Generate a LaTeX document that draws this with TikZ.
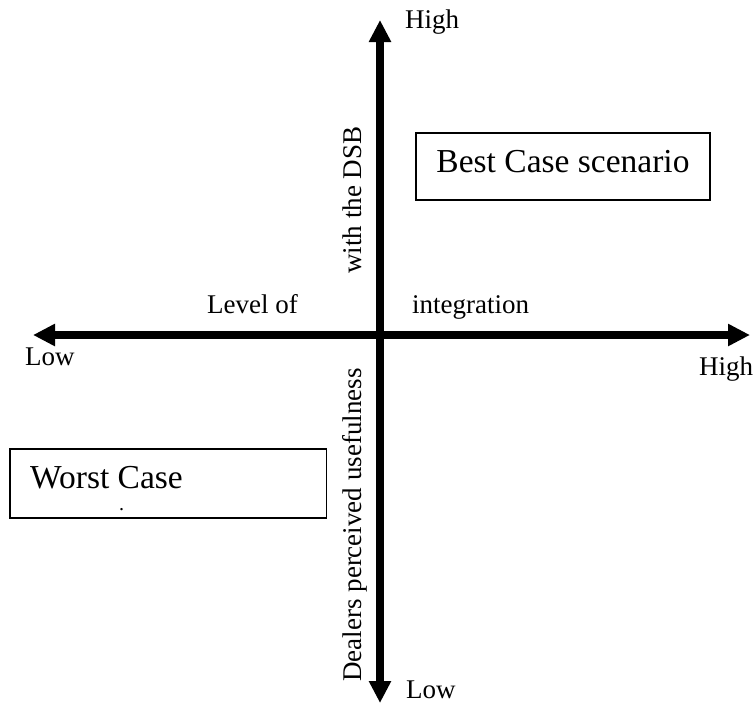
\documentclass[tikz,border=0pt]{standalone}
\usepackage{fontspec}
\setmainfont{Liberation Serif}
\usetikzlibrary{arrows.meta}
\begin{document}
\begin{tikzpicture}[x=1pt,y=-1pt,
  axis/.style={line width=7.5pt,{Triangle[length=22pt,width=21pt]}-{Triangle[length=22pt,width=21pt]}},
  lbl/.style={inner sep=0pt,font=\fontsize{27}{32}\selectfont},
  boxtxt/.style={inner sep=0pt,font=\fontsize{33.5}{40}\selectfont},
  frame/.style={draw,line width=1.5pt,inner sep=0pt}]
\useasboundingbox (0,0) rectangle (754,705);

% axes
\coordinate (xl) at (33,335);
\coordinate (xr) at (750,335);
\coordinate (yt) at (380,20);
\coordinate (yb) at (380,703);
\draw[axis] (xl) -- (xr);
\draw[axis] (yb) -- (yt);

% axis end labels
\node[lbl,anchor=base west] (hightop) at (405,28) {High};
\node[lbl,anchor=base west] (lowbot) at (406,698) {Low};
\node[lbl,anchor=base west] (lowleft) at (25,365) {Low};
\node[lbl,anchor=base west] (highright) at (699,375) {High};

% axis titles
\node[lbl,anchor=base west] (levelof) at (207,313) {Level of};
\node[lbl,anchor=base west] (integ) at (412,313) {integration};
\node[lbl,anchor=base,rotate=90] (dsb) at (361,200) {with the DSB};
\node[lbl,anchor=base,rotate=90] (dealers) at (361,525) {Dealers perceived usefulness};

% scenario boxes
\node[frame,boxtxt,minimum width=294pt,minimum height=67pt,
      text height=22pt,text depth=10pt] (best) at (563,166.5) {Best Case scenario};
\node[frame,minimum width=316.5pt,minimum height=69pt] (worst) at (168,483.5) {};
\node[boxtxt,anchor=base west] (worsttxt) at (30,488) {Worst Case};
\node[inner sep=0pt,font=\fontsize{20}{22}\selectfont,anchor=base west] (dot) at (119,510) {.};
\end{tikzpicture}
\end{document}
